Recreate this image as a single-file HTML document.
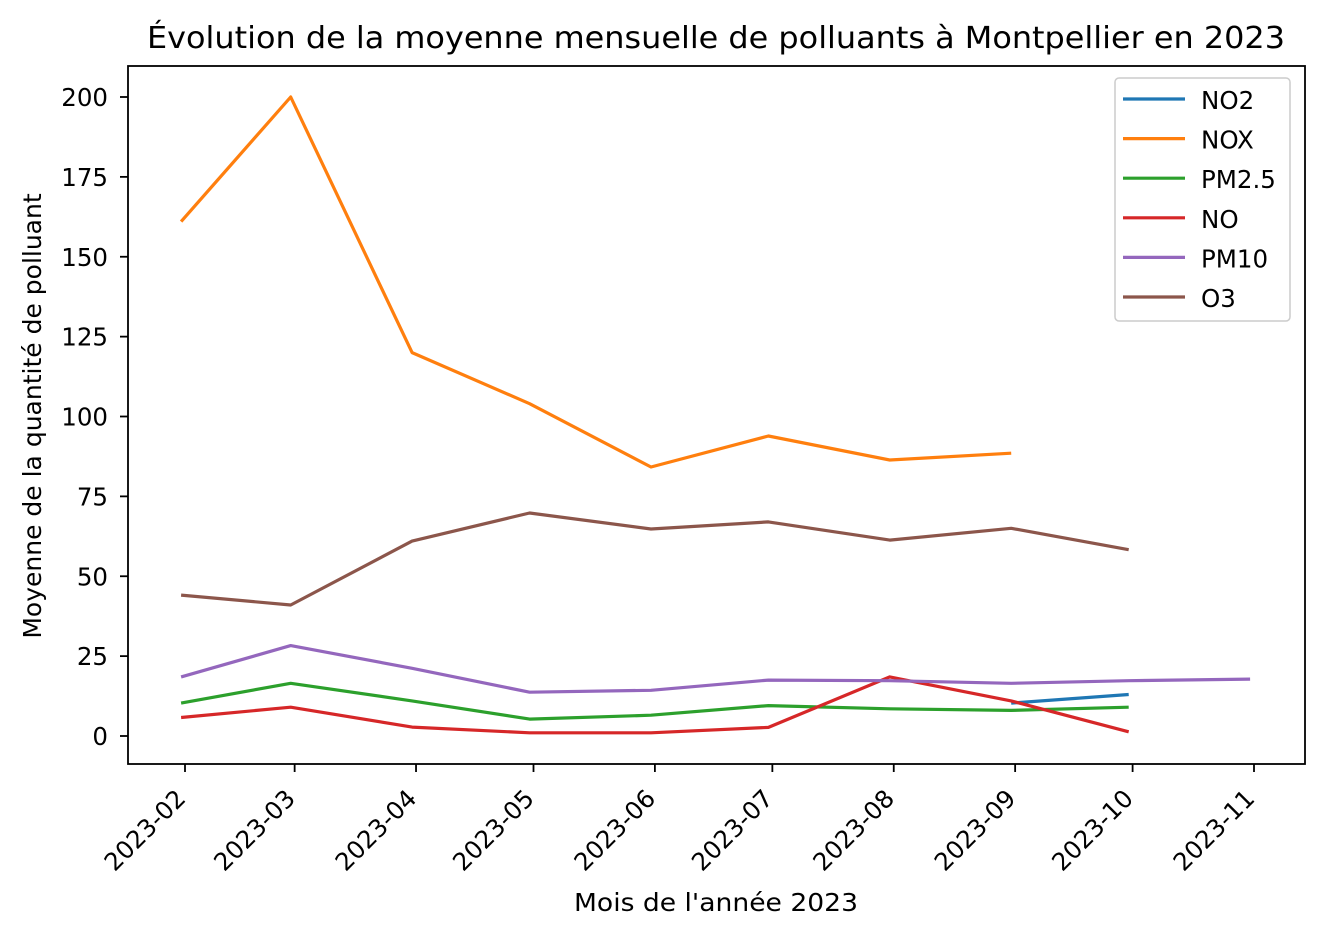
<!DOCTYPE html>
<html><head><meta charset="utf-8"><style>
body{margin:0;background:#fff;}
svg{display:block;font-family:"DejaVu Sans","Liberation Sans",sans-serif;}
</style></head><body>
<svg id="chart" width="1323" height="937" viewBox="0 0 1323 937" xmlns="http://www.w3.org/2000/svg">
<rect width="1323" height="937" fill="#fff"/>
<text x="716" y="48" text-anchor="middle" font-size="30.5" fill="#000" textLength="1138" lengthAdjust="spacingAndGlyphs">Évolution de la moyenne mensuelle de polluants à Montpellier en 2023</text>
<g id="marks"></g>
<g id="axes"></g>
<rect x="128" y="66" width="1177" height="698" fill="none" stroke="#000" stroke-width="1.8"/>
<text x="716" y="911" text-anchor="middle" font-size="25" textLength="284" lengthAdjust="spacingAndGlyphs">Mois de l'année 2023</text>
<text transform="translate(41,416) rotate(-90)" text-anchor="middle" font-size="25">Moyenne de la quantité de polluant</text>
<g id="legend"></g>
</svg>
<script>
const tickLabels=["2023-02","2023-03","2023-04","2023-05","2023-06","2023-07","2023-08","2023-09","2023-10","2023-11"];
const tickDays=[0,28,59,89,120,150,181,212,242,273];
const pointDays=[-1,27,58,88,119,149,180,211,241,272];
const yTicks=[0,25,50,75,100,125,150,175,200];
const seriesNames=["NO2","NOX","PM2.5","NO","PM10","O3"];
const seriesColors=["#1f77b4","#ff7f0e","#2ca02c","#d62728","#9467bd","#8c564b"];
const no2=[null,null,null,null,null,null,null,10.3,13];
const nox=[161,200,120,104,84.2,93.9,86.4,88.5];
const pm25=[10.3,16.5,11,5.3,6.5,9.5,8.5,8,9];
const no=[5.8,9,2.8,1,1,2.7,18.5,11,1.3];
const pm10=[18.5,28.3,21.2,13.7,14.3,17.5,17.3,16.5,17.3,17.8];
const o3=[44.1,41,61,69.8,64.8,67,61.3,65,58.3];
const seriesData=[no2,nox,pm25,no,pm10,o3];

const NS="http://www.w3.org/2000/svg";
const x=d=>185+d*(1254-185)/273;
const y=v=>736-v*(736-97)/200;
function el(t,a,p){const e=document.createElementNS(NS,t);for(const k in a)e.setAttribute(k,a[k]);p.appendChild(e);return e;}
const axes=document.getElementById('axes'),marks=document.getElementById('marks'),leg=document.getElementById('legend');
tickDays.forEach((d,i)=>{
  const tx=x(d);
  const t=el('line',{x1:tx,x2:tx,y1:764,y2:772,stroke:'#000','stroke-width':1.8},axes);
  
  
  const ax=tx+2, ay=800;
  const l=el('text',{x:ax,y:ay,'text-anchor':'end','font-size':24.5,transform:`rotate(-45 ${ax} ${ay})`},axes);
  l.textContent=tickLabels[i];
  
  
});
yTicks.forEach(v=>{
  const ty=y(v);
  const t=el('line',{x1:120,x2:128,y1:ty,y2:ty,stroke:'#000','stroke-width':1.8},axes);
  
  
  const l=el('text',{x:108,y:ty+9,'text-anchor':'end','font-size':24.5},axes);
  l.textContent=v;
  
  
});
seriesData.forEach((s,si)=>{
  const pts=[];
  s.forEach((v,i)=>{if(v!==null&&v!==undefined)pts.push(x(pointDays[i]).toFixed(1)+','+y(v).toFixed(1));});
  const p=el('polyline',{points:pts.join(' '),fill:'none',stroke:seriesColors[si],'stroke-width':3.2,'stroke-linejoin':'round'},marks);
  
  
});
const box=el('rect',{x:1115,y:78,width:175,height:243,rx:4,fill:'#fff','fill-opacity':0.8,stroke:'#ccc','stroke-width':1.5},leg);


seriesNames.forEach((n,i)=>{
  const ly=99+i*39.6;
  const ln=el('line',{x1:1123,x2:1185,y1:ly,y2:ly,stroke:seriesColors[i],'stroke-width':3.2},leg);
  
  
  const t=el('text',{x:1201,y:ly+10,'font-size':24.5},leg);
  t.textContent=n;
  
  
});
</script>
</body></html>
